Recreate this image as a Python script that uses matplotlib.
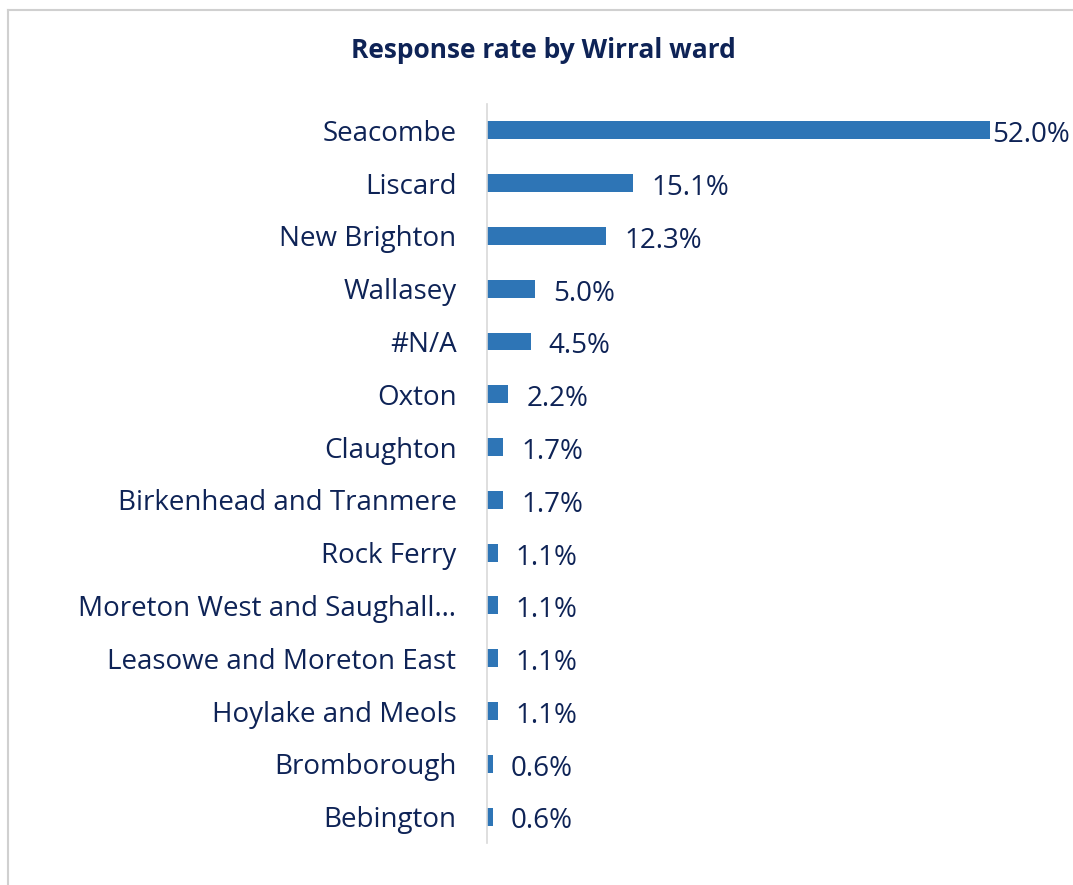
import matplotlib.pyplot as plt
from matplotlib.lines import Line2D

wards = ["Seacombe", "Liscard", "New Brighton", "Wallasey", "#N/A", "Oxton",
         "Claughton", "Birkenhead and Tranmere", "Rock Ferry",
         "Moreton West and Saughall\u2026", "Leasowe and Moreton East",
         "Hoylake and Meols", "Bromborough", "Bebington"]
rates = [52.0, 15.1, 12.3, 5.0, 4.5, 2.2, 1.7, 1.7, 1.1, 1.1, 1.1, 1.1, 0.6, 0.6]

navy = "#0E2356"
blue = "#2E75B6"
plt.rcParams['font.family'] = ['Open Sans', 'DejaVu Sans']

fig = plt.figure(figsize=(10.73, 8.85), dpi=100)
ax = fig.add_axes([0.4539, 0.0475, 0.5405, 0.835])

ypos = list(range(len(wards)))
ax.barh(ypos, rates, height=0.34, color=blue)
ax.set_ylim(len(wards) - 0.5, -0.5)
ax.set_xlim(0, 60)

ax.set_yticks(ypos)
ax.set_yticklabels(wards, fontsize=20, color=navy, va="center_baseline")
ax.tick_params(axis='y', length=0, pad=22)
ax.set_xticks([])

for s in ["top", "right", "bottom"]:
    ax.spines[s].set_visible(False)
ax.spines["left"].set_color("#D9D9D9")
ax.spines["left"].set_linewidth(1.2)

for i, v in enumerate(rates):
    off = 2 if v == max(rates) else 13
    ax.annotate(f"{v:.1f}%", (v, i), xytext=(off, -1), textcoords="offset points",
                va="center_baseline", ha="left", fontsize=20, color=navy)

fig.text(0.506, 0.943, "Response rate by Wirral ward", ha="center", va="center",
         fontsize=19, fontweight="bold", color=navy)

# chart frame (only left and top edges visible)
fig.add_artist(Line2D([0.0075, 0.0075], [0, 0.989], transform=fig.transFigure,
                      color="#D0D0D0", lw=1.5))
fig.add_artist(Line2D([0.0075, 1], [0.989, 0.989], transform=fig.transFigure,
                      color="#D0D0D0", lw=1.5))

fig.savefig("out.png", dpi=100)
